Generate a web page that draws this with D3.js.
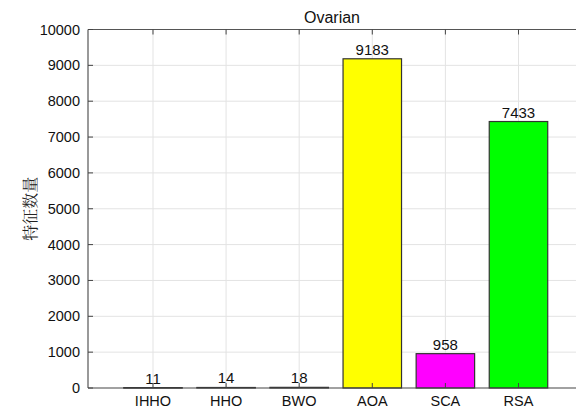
<!DOCTYPE html>
<html><head><meta charset="utf-8">
<script src="https://cdn.jsdelivr.net/npm/d3@7"></script>
<style>body{margin:0;background:#fff}svg{display:block}text{font-family:Arial,"Liberation Sans",sans-serif}</style>
</head><body><svg id="c" width="576" height="410"></svg>
<script>
const categories = ["IHHO","HHO","BWO","AOA","SCA","RSA"];
const values = [11,14,18,9183,958,7433];
const colors = ["#333333","#333333","#333333","#ffff00","#ff00ff","#00ff00"];
const yTicks = [0,1000,2000,3000,4000,5000,6000,7000,8000,9000,10000];
const title = "Ovarian";
const yLabel = "特征数量";

const svg = d3.select("#c");
const L = 88, T = 29.5, B = 388, R = 576;
const y = d3.scaleLinear().domain([0,10000]).range([B,T]);
const x = d3.scaleLinear().domain([0.111, 7.0]).range([L, L + 6.889*73.1]);

svg.append("g").selectAll("line.h").data(yTicks.filter(d=>d>0&&d<10000)).join("line")
  .attr("x1",L).attr("x2",R).attr("y1",d=>y(d)).attr("y2",d=>y(d))
  .attr("stroke","#e3e3e3").attr("stroke-width",1);
svg.append("g").selectAll("line.v").data(categories).join("line")
  .attr("x1",(d,i)=>x(i+1)).attr("x2",(d,i)=>x(i+1)).attr("y1",T).attr("y2",B)
  .attr("stroke","#e3e3e3").attr("stroke-width",1);

const bw = 0.8;
svg.append("g").selectAll("rect").data(values).join("rect")
  .attr("x",(d,i)=>x(i+1-bw/2)).attr("width",x(1+bw/2)-x(1-bw/2))
  .attr("y",d=>y(d)).attr("height",d=>Math.max(0.5,B-y(d)))
  .attr("fill",(d,i)=>colors[i]).attr("stroke","#333").attr("stroke-width",1.2);

svg.append("g").selectAll("text").data(values).join("text")
  .attr("x",(d,i)=>x(i+1)).attr("y",d=>y(d)-4)
  .attr("text-anchor","middle").attr("font-size",15).attr("fill","#111").text(d=>d);

svg.append("line").attr("x1",L).attr("x2",L).attr("y1",T).attr("y2",B).attr("stroke","#555").attr("stroke-width",1.2);
svg.append("line").attr("x1",L).attr("x2",R).attr("y1",B).attr("y2",B).attr("stroke","#444").attr("stroke-width",1.2);
svg.append("line").attr("x1",L).attr("x2",R).attr("y1",T).attr("y2",T).attr("stroke","#555").attr("stroke-width",1.2);

const yg = svg.append("g");
yg.selectAll("line").data(yTicks).join("line")
  .attr("x1",L).attr("x2",L+5).attr("y1",d=>y(d)).attr("y2",d=>y(d)).attr("stroke","#444");
yg.selectAll("text").data(yTicks).join("text")
  .attr("x",L-8).attr("y",d=>y(d)+5).attr("text-anchor","end").attr("font-size",14.5).attr("fill","#111").text(d=>d);

const xg = svg.append("g");
xg.selectAll("line.b").data(categories).join("line")
  .attr("x1",(d,i)=>x(i+1)).attr("x2",(d,i)=>x(i+1)).attr("y1",B).attr("y2",B-5).attr("stroke","#444");
xg.selectAll("line.t").data(categories).join("line")
  .attr("x1",(d,i)=>x(i+1)).attr("x2",(d,i)=>x(i+1)).attr("y1",T).attr("y2",T+5).attr("stroke","#444");
xg.selectAll("text").data(categories).join("text")
  .attr("x",(d,i)=>x(i+1)).attr("y",406).attr("text-anchor","middle").attr("font-size",14.5).attr("fill","#111").text(d=>d);

svg.append("text").attr("x",(L+R)/2).attr("y",23).attr("text-anchor","middle").attr("font-size",16).attr("fill","#111").text(title);

svg.append("text").attr("transform",`translate(36,${(T+B)/2}) rotate(-90)`)
  .attr("text-anchor","middle").attr("font-size",16).attr("fill","#222")
  .style("font-family","'Noto Serif CJK SC','Noto Sans CJK SC',serif").text(yLabel);
</script></body></html>
